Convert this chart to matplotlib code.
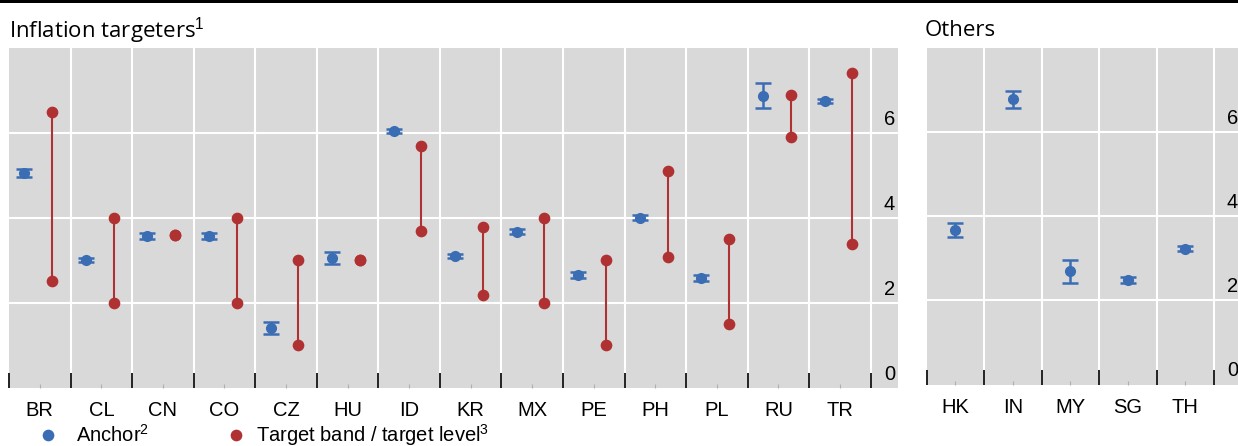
import matplotlib
matplotlib.use("Agg")
import matplotlib.pyplot as plt
from matplotlib.lines import Line2D
from matplotlib.patches import Rectangle
import numpy as np

plt.rcParams['font.family'] = ['Liberation Sans', 'DejaVu Sans']
plt.rcParams['mathtext.fontset'] = 'custom'
plt.rcParams['mathtext.rm'] = 'Liberation Sans'
plt.rcParams['mathtext.default'] = 'rm'

# ---- data ----
it_countries = ["BR", "CL", "CN", "CO", "CZ", "HU", "ID", "KR", "MX", "PE", "PH", "PL", "RU", "TR"]
it_anchor = [5.05, 3.0, 3.57, 3.57, 1.4, 3.05, 6.05, 3.09, 3.67, 2.65, 4.0, 2.59, 6.88, 6.76]
it_anchor_err = [0.1, 0.05, 0.07, 0.07, 0.14, 0.15, 0.05, 0.05, 0.06, 0.07, 0.06, 0.07, 0.3, 0.05]
it_target_low = [2.5, 2.0, 3.6, 2.0, 1.0, 3.0, 3.69, 2.19, 2.0, 1.0, 3.08, 1.5, 5.9, 3.39]
it_target_high = [6.5, 4.0, 3.6, 4.0, 3.0, 3.0, 5.7, 3.79, 4.0, 3.0, 5.1, 3.5, 6.89, 7.4]

ot_countries = ["HK", "IN", "MY", "SG", "TH"]
ot_anchor = [3.67, 6.77, 2.69, 2.48, 3.23]
ot_anchor_err = [0.17, 0.2, 0.27, 0.07, 0.05]

yticks = [0, 2, 4, 6]

BLUE = "#3B6DB4"
RED = "#B03131"
BG = "#D9D9D9"

W, H = 1238, 446
fig = plt.figure(figsize=(W / 100, H / 100), dpi=100)


def px_axes(x0, x1, ytop, ybot):
    return fig.add_axes([x0 / W, (H - ybot) / H, (x1 - x0) / W, (ybot - ytop) / H])


def style_axes(ax, n, cat_w_px, ax_w_px, labels):
    ax.set_facecolor(BG)
    for s in ax.spines.values():
        s.set_visible(False)
    ax.set_xlim(-0.5, -0.5 + ax_w_px / cat_w_px)
    ax.set_ylim(0, 8)
    bounds = np.arange(n + 1) - 0.5
    ax.set_xticks(bounds)
    ax.set_xticklabels([])
    ax.set_xticks(np.arange(n), minor=True)
    ax.set_xticklabels(labels, minor=True, fontsize=14.5)
    ax.tick_params(axis='x', which='major', direction='in', length=11, width=1.4, color='#222222')
    ax.tick_params(axis='x', which='minor', direction='in', length=3, width=0.8, color='#b0b0b0', pad=10)
    ax.set_yticks([])
    for b in bounds[1:]:
        ax.axvline(b, color='white', lw=1.5, zorder=0.5)
    for v in yticks[1:]:
        ax.axhline(v, color='white', lw=1.5, zorder=0.5)
    ax.set_axisbelow(True)
    for v in yticks:
        ax.annotate(str(v), xy=(1, v), xycoords=('axes fraction', 'data'),
                    xytext=(-3, 4), textcoords='offset pixels',
                    ha='right', va='bottom', fontsize=14.5, annotation_clip=False)


# ---- left panel: inflation targeters ----
axL = px_axes(9, 898, 48, 387.5)
style_axes(axL, len(it_countries), 61.55, 889, it_countries)
xL = np.arange(len(it_countries))
axL.vlines(xL + 0.2, it_target_low, it_target_high, color=RED, lw=1.5, zorder=2)
axL.plot(xL + 0.2, it_target_low, 'o', color=RED, ms=7.4, zorder=3, ls='none')
axL.plot(xL + 0.2, it_target_high, 'o', color=RED, ms=7.4, zorder=3, ls='none')
axL.errorbar(xL - 0.25, it_anchor, yerr=it_anchor_err, fmt='o', color=BLUE, ms=7,
             capsize=5.8, elinewidth=1.8, capthick=1.8, zorder=4)

# ---- right panel: others ----
axR = px_axes(926.7, 1241, 47.7, 384.5)
style_axes(axR, len(ot_countries), 57.45, 314.3, ot_countries)
xR = np.arange(len(ot_countries))
axR.errorbar(xR, ot_anchor, yerr=ot_anchor_err, fmt='o', color=BLUE, ms=7,
             capsize=5.8, elinewidth=1.8, capthick=1.8, zorder=4)

# ---- titles ----
fig.text(9 / W, 1 - 37 / H, "Inflation targeters$^1$", fontsize=16, family=['Open Sans', 'DejaVu Sans'],
         ha='left', va='baseline')
fig.text(925 / W, 1 - 36 / H, "Others", fontsize=16, family=['Open Sans', 'DejaVu Sans'],
         ha='left', va='baseline')

# ---- top rule ----
fig.add_artist(Rectangle((0, 1 - 2.5 / H), 1, 2.5 / H, transform=fig.transFigure,
                         color='black', lw=0))

# ---- legend (two entries placed independently) ----
h_anchor = Line2D([], [], marker='o', color=BLUE, ls='none', ms=7.4)
h_target = Line2D([], [], marker='o', color=RED, ls='none', ms=7.4)
fig.legend([h_anchor], ["Anchor$^2$"],
           loc='center left', bbox_to_anchor=(38 / W, 1 - 435 / H), frameon=False,
           fontsize=14.5, handlelength=1.0, handletextpad=0.89,
           borderaxespad=0, borderpad=0)
fig.legend([h_target], ["Target band / target level$^3$"],
           loc='center left', bbox_to_anchor=(226 / W, 1 - 435 / H), frameon=False,
           fontsize=14.5, handlelength=1.0, handletextpad=0.49,
           borderaxespad=0, borderpad=0)

fig.savefig("out.png", dpi=100)
